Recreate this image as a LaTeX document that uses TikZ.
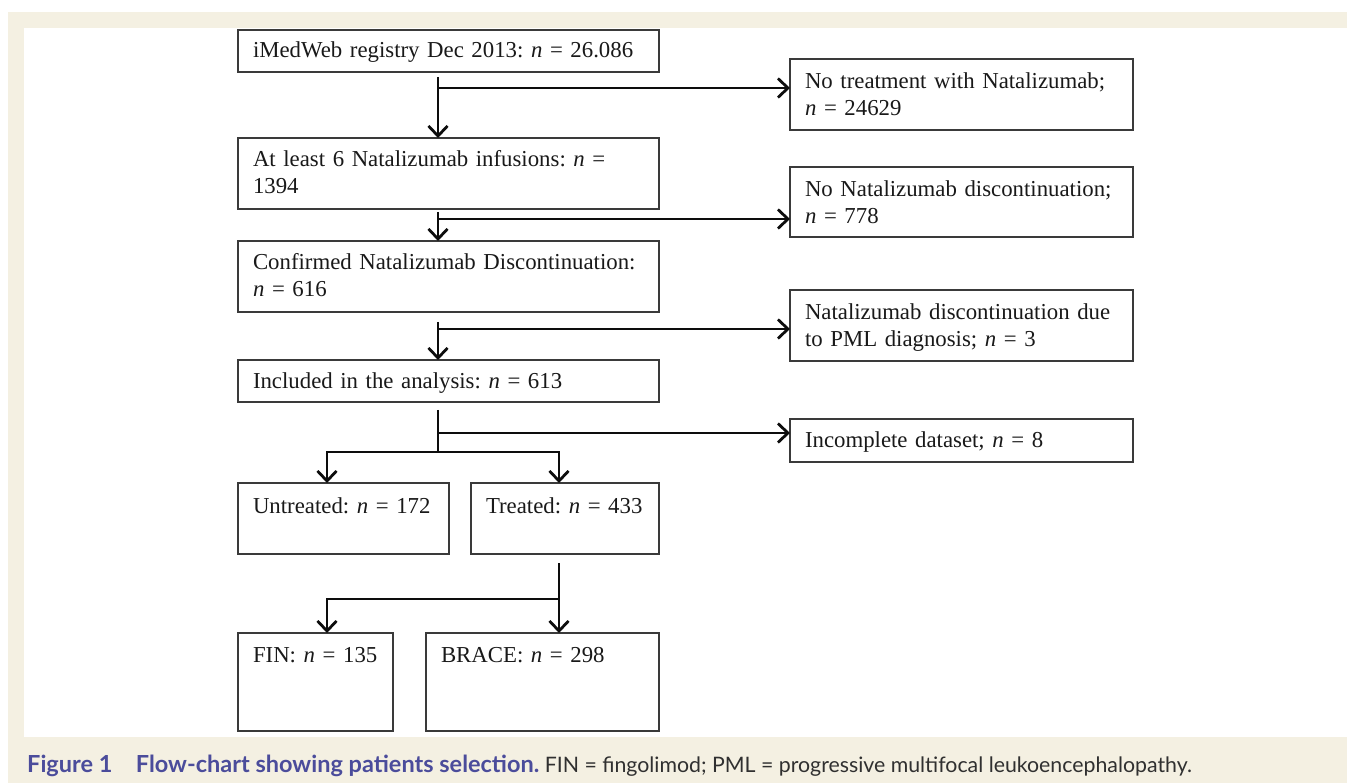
\documentclass[tikz,border=0pt]{standalone}
\usepackage{fontspec}
\setmainfont{Liberation Serif}
\newfontfamily\capfont{Lato}
\usetikzlibrary{arrows.meta,positioning}
\frenchspacing

\definecolor{paper}{HTML}{F4F0E2}
\definecolor{capblue}{HTML}{4B4C9B}
\definecolor{capgray}{HTML}{303030}
\definecolor{boxgray}{HTML}{3A3A3A}

\newcommand{\boxfont}{\fontsize{22.8}{27}\selectfont}

\tikzset{
  box/.style={draw=boxgray, line width=1.3pt, anchor=north west, outer sep=0pt,
    inner xsep=15pt, inner ysep=0pt, align=left, font=\boxfont, text=black!90},
  link/.style={line width=2.8pt, draw=black!95},
  arr/.style={link, -{Straight Barb[length=10pt,width=19pt]}},
  caption/.style={anchor=base west, inner sep=0pt, font=\capfont\fontsize{21.3}{26}\selectfont, text=capgray}
}

\begin{document}
\begin{tikzpicture}[x=1pt, y=-1pt]
    \useasboundingbox (0,0) rectangle (1347,783);
    % Page background
    \fill[paper] (8,12) rectangle (1347,783);
    \fill[white] (24,28) rectangle (1347,737);

    % Main column
    \node[box, text width=391pt, text height=28pt, text depth=14pt] (reg) at (238,30)
        {iMedWeb registry Dec 2013: \textit{n} = 26.086};
    \node[box, text width=391pt, text height=29pt, text depth=42pt] (inf) at (238,138)
        {At least 6 Natalizumab infusions: \textit{n} =\\1394};
    \node[box, text width=391pt, text height=29pt, text depth=42pt] (disc) at (238,241)
        {Confirmed Natalizumab Discontinuation:\\\textit{n} = 616};
    \node[box, text width=391pt, text height=29pt, text depth=13pt] (incl) at (238,360)
        {Included in the analysis: \textit{n} = 613};

    % Excluded patients
    \node[box, text width=313pt, text height=30pt, text depth=41pt] (notrt) at (790,59)
        {No treatment with Natalizumab;\\\textit{n} = 24629};
    \node[box, text width=313pt, text height=30pt, text depth=40pt] (nodisc) at (790,167)
        {No Natalizumab discontinuation;\\\textit{n} = 778};
    \node[box, text width=313pt, text height=30pt, text depth=41pt] (pml) at (790,290)
        {Natalizumab discontinuation due\\to PML diagnosis; \textit{n} = 3};
    \node[box, text width=313pt, text height=29pt, text depth=14pt] (incmp) at (790,419)
        {Incomplete dataset; \textit{n} = 8};

    % Treatment groups
    \node[box, text width=181pt, text height=30pt, text depth=41pt] (untr) at (238,483)
        {Untreated: \textit{n} = 172};
    \node[box, text width=158pt, text height=30pt, text depth=41pt] (trt) at (471,483)
        {Treated: \textit{n} = 433};
    \node[box, text width=125pt, text height=29pt, text depth=69pt] (fin) at (238,633)
        {FIN:~\textit{n}~=~135};
    \node[box, text width=203pt, text height=29pt, text depth=69pt] (brace) at (426,633)
        {BRACE: \textit{n} = 298};

    % Branch points
    \coordinate (trunk) at (438,0);
    \coordinate (colL) at (327,0);
    \coordinate (colR) at (559,0);
    \coordinate (j1) at (438,88);
    \coordinate (j2) at (438,219);
    \coordinate (j3) at (438,329);
    \coordinate (j4) at (438,433);
    \coordinate (j5) at (438,452);
    \coordinate (j6) at (559,599);

    % Arrows
    \draw[arr, shorten <=5pt] (reg.south -| trunk) -- (inf.north -| trunk);
    \draw[arr] (j1) -- (j1 -| notrt.west);
    \draw[arr, shorten <=3pt] (inf.south -| trunk) -- (disc.north -| trunk);
    \draw[arr] (j2) -- (j2 -| nodisc.west);
    \draw[arr, shorten <=10pt] (disc.south -| trunk) -- (incl.north -| trunk);
    \draw[arr] (j3) -- (j3 -| pml.west);
    \draw[link, shorten <=8pt] (incl.south -| trunk) -- (j5);
    \draw[arr] (j4) -- (j4 -| incmp.west);
    \draw[arr] (j5) -| (untr.north -| colL);
    \draw[arr] (j5) -| (trt.north -| colR);
    \draw[arr, shorten <=9pt] (trt.south -| colR) -- (brace.north -| colR);
    \draw[arr] (j6) -| (fin.north -| colL);

    % Caption
    \node[caption] (cap) at (27,772)
        {\textcolor{capblue}{\fontsize{23.5}{26}\selectfont\bfseries Figure 1\quad Flow-chart showing patients selection.} FIN = fingolimod; PML = progressive multifocal leukoencephalopathy.};
\end{tikzpicture}
\end{document}
